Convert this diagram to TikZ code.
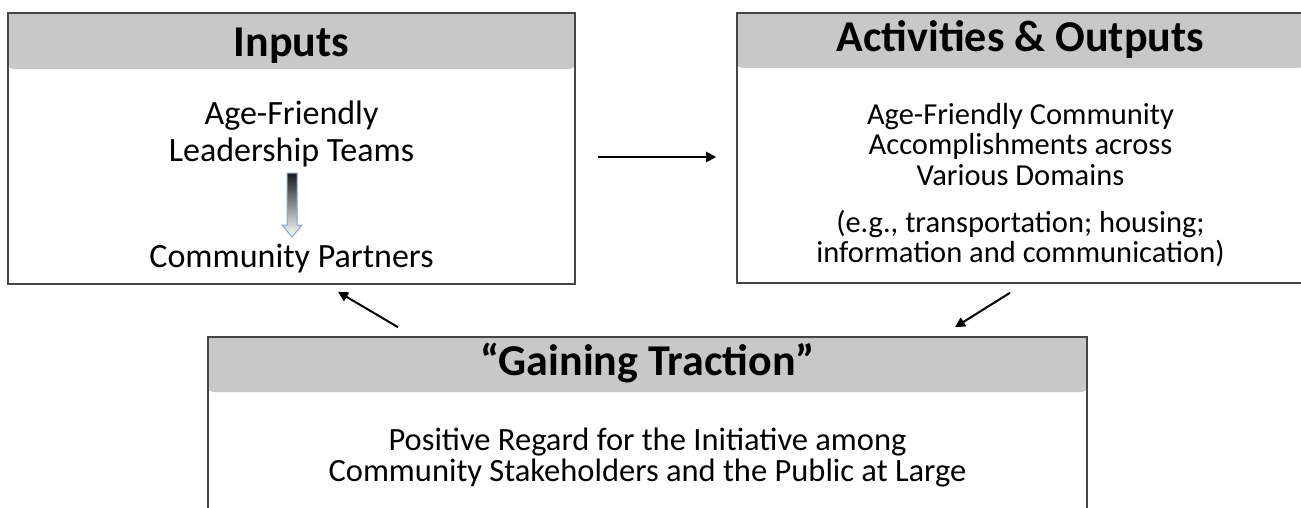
\documentclass[tikz,border=0pt]{standalone}
\usepackage{fontspec}
\setmainfont{Carlito}
\usetikzlibrary{arrows.meta}

\definecolor{framegray}{HTML}{454545}
\definecolor{headgray}{HTML}{C8C8C8}
\definecolor{arrowblue}{HTML}{7FA7D6}

\tikzset{
  frame/.style={draw=framegray, line width=1.6pt, inner sep=0pt},
  header/.style={fill=headgray, rounded corners=5pt},
  headtext/.style={font=\bfseries\fontsize{44}{46}\selectfont, anchor=base, inner sep=0pt},
  bodytext/.style={align=center, anchor=base, inner sep=0pt},
  flow/.style={-{Triangle[length=10pt,width=10pt]}, line width=2pt},
  gradarrow/.style={top color=black!90, bottom color=white, draw=arrowblue, line width=1pt},
}

\begin{document}
\begin{tikzpicture}[x=1pt,y=-1pt]
\useasboundingbox (0,0) rectangle (1301,508);
\clip (0,0) rectangle (1301,508);

% Header bars
\fill[headgray] (8,13) rectangle (575,40);
\fill[header] (8,13) rectangle (575,69);
\fill[headgray] (737,13) rectangle (1304,40);
\fill[header] (737,13) rectangle (1304,68);
\fill[headgray] (208,337) rectangle (1087,360);
\fill[header] (208,337) rectangle (1087,392);

% Boxes
\node[frame, minimum width=567pt, minimum height=271pt] (inbox) at (291.5,148.5) {};
\node[frame, minimum width=567pt, minimum height=270pt] (actbox) at (1020.5,148) {};
\node[frame, minimum width=879pt, minimum height=223pt] (tracbox) at (647.5,448.5) {};

% Titles
\node[headtext] (intitle) at (291.5,57) {Inputs};
\node[headtext] (acttitle) at (1020.5,52) {Activities \& Outputs};
\node[headtext] (tractitle) at (647.5,375) {“Gaining Traction”};

% Inputs (base = last line)
\node[bodytext, font=\fontsize{34}{36}\selectfont] (leaders) at (291.5,161) {Age-Friendly\\Leadership Teams};
\node[bodytext, font=\fontsize{34}{36}\selectfont] (partners) at (291.5,267) {Community Partners};

% Shaded block arrow
\coordinate (gtop) at (292,173);
\coordinate (gtip) at (292,237);
\shade[gradarrow] (gtop) ++(-5,0) -- ++(10,0) -- ++(0,52) -- ++(5,0) -- (gtip) -- ++(-10,-12) -- ++(5,0) -- cycle;

% Activities & Outputs
\node[bodytext, font=\fontsize{30.5}{30.5}\selectfont] (domains) at (1020.5,185) {Age-Friendly Community\\Accomplishments across\\Various Domains};
\node[bodytext, font=\fontsize{30.5}{29.5}\selectfont] (examples) at (1020.5,262) {(e.g., transportation; housing;\\information and communication)};

% Gaining Traction
\node[bodytext, font=\fontsize{32.5}{31}\selectfont] (regard) at (647.5,481) {Positive Regard for the Initiative among\\Community Stakeholders and the Public at Large};

% Cycle arrows
\draw[flow] ([xshift=22pt,yshift=-8.5pt]inbox.east) -- ([xshift=-20pt,yshift=-9pt]actbox.west);
\draw[flow] ([xshift=-10.5pt,yshift=-9pt]actbox.south) -- ([xshift=307.5pt,yshift=9pt]tracbox.north);
\draw[flow] ([xshift=-249.5pt,yshift=9pt]tracbox.north) -- ([xshift=46.5pt,yshift=-7pt]inbox.south);

\end{tikzpicture}
\end{document}
